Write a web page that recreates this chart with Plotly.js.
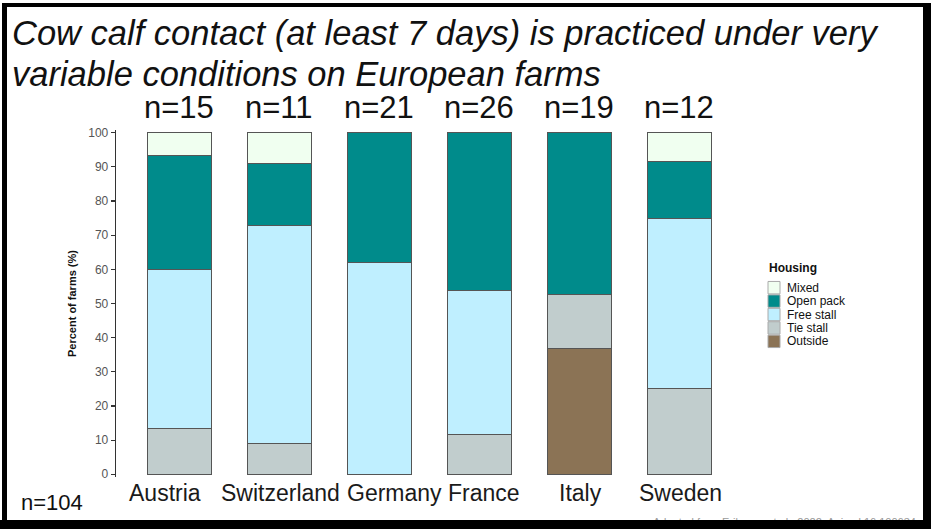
<!DOCTYPE html>
<html>
<head>
<meta charset="utf-8">
<script src="https://cdn.plot.ly/plotly-3.0.1.min.js"></script>
<style>
  html, body { margin: 0; padding: 0; background: #fff; }
  #wrap { position: relative; width: 931px; height: 529px; overflow: hidden; }
  #chart { position: absolute; left: 0; top: 0; width: 931px; height: 529px; }
  .edge { position: absolute; background: #000; pointer-events: none; }
</style>
</head>
<body>
<div id="wrap">
  <div id="chart"></div>
  <!-- slide frame -->
  <div class="edge" style="left:2px; top:3px; width:5px; height:526px;"></div>
  <div class="edge" style="left:2px; top:3px; width:929px; height:4px;"></div>
  <div class="edge" style="left:923px; top:3px; width:8px; height:526px;"></div>
  <div class="edge" style="left:0; top:520px; width:931px; height:9px;"></div>
</div>
<script>
// Farms per country, split by calf housing type
const countries = ['Austria', 'Switzerland', 'Germany', 'France', 'Italy', 'Sweden'];
const farmsTotal = [15, 11, 21, 26, 19, 12];

// farm counts per housing type (same country order)
const outside   = [0, 0, 0, 0, 7, 0];
const tieStall  = [2, 1, 0, 3, 3, 3];
const freeStall = [7, 7, 13, 11, 0, 6];
const openPack  = [5, 2, 8, 12, 9, 2];
const mixed     = [1, 1, 0, 0, 0, 1];

// stacking order, bottom to top
const housingNames  = ['Outside', 'Tie stall', 'Free stall', 'Open pack', 'Mixed'];
const housingCounts = [outside, tieStall, freeStall, openPack, mixed];
const housingColors = ['#8B7355', '#C1CDCD', '#BFEFFF', '#008B8B', '#F0FFF0'];

const titleLines = ['Cow calf contact (at least 7 days) is practiced under very',
                    'variable conditions on European farms'];
const totalLabel = 'n=104';
const sourceNote = 'Adapted from Eriksson et al., 2022, Animal 16:100634';

// plot area in pixels, used to place paper-referenced items
const L = 116, R = 739, T = 130.3, B = 476.7;
const px = x => (x - L) / (R - L);
const py = y => (B - y) / (B - T);

// country names sit in their own text row, nudged sideways to fit
const countryLabelShift = [-14, 1.5, 15, 5, 1, 1.5];

const sans = '"Liberation Sans", Arial, sans-serif';

const traces = housingNames.map((name, k) => ({
  type: 'bar',
  name: name,
  x: countries,
  y: housingCounts[k].map((c, i) => c === 0 ? null : c / farmsTotal[i] * 100),
  width: 0.64,
  marker: { color: housingColors[k], line: { color: '#555555', width: 1 } },
  showlegend: false,
  hoverinfo: 'skip'
}));

const annotations = [];
titleLines.forEach((t, i) => annotations.push({
  xref: 'paper', yref: 'paper', x: px(10), y: py(33 + i * 41),
  xanchor: 'left', yanchor: 'middle', showarrow: false,
  text: t, font: { family: sans, size: 34.5, color: '#111', style: 'italic' }
}));
countries.forEach((c, i) => {
  annotations.push({
    xref: 'x', yref: 'paper', x: c, y: py(108),
    xanchor: 'center', yanchor: 'middle', showarrow: false,
    text: 'n=' + farmsTotal[i], font: { family: sans, size: 31, color: '#111' }
  });
  annotations.push({
    xref: 'x', yref: 'paper', x: c, y: py(493), xshift: countryLabelShift[i],
    xanchor: 'center', yanchor: 'middle', showarrow: false,
    text: c, font: { family: sans, size: 23, color: '#1a1a1a' }
  });
});
annotations.push({
  xref: 'paper', yref: 'paper', x: px(19), y: py(502),
  xanchor: 'left', yanchor: 'middle', showarrow: false,
  text: totalLabel, font: { family: sans, size: 22, color: '#111' }
});
annotations.push({
  xref: 'paper', yref: 'paper', x: px(918), y: py(522),
  xanchor: 'right', yanchor: 'middle', showarrow: false,
  text: sourceNote, font: { family: sans, size: 11, color: '#9a9a9a' }
});

// legend drawn by hand: ggplot-style stacked keys
const shapes = [];
annotations.push({
  xref: 'paper', yref: 'paper', x: px(767), y: py(268),
  xanchor: 'left', yanchor: 'middle', showarrow: false,
  text: '<b>Housing</b>', font: { family: sans, size: 12, color: '#111' }
});
const keyTop = 281, keyH = 13.4;
for (let j = 0; j < housingNames.length; j++) {
  const k = housingNames.length - 1 - j;  // top of stack first
  const y0 = keyTop + j * keyH;
  shapes.push({
    type: 'rect', xref: 'paper', yref: 'paper',
    x0: px(768), x1: px(780), y0: py(y0 + 0.5), y1: py(y0 + keyH - 0.5),
    fillcolor: housingColors[k], line: { color: '#aaaaaa', width: 1 }
  });
  annotations.push({
    xref: 'paper', yref: 'paper', x: px(785), y: py(y0 + keyH / 2),
    xanchor: 'left', yanchor: 'middle', showarrow: false,
    text: housingNames[k], font: { family: sans, size: 12, color: '#111' }
  });
}

const layout = {
  width: 931, height: 529,
  margin: { l: L, r: 931 - R, t: T, b: 529 - B, pad: 0 },
  paper_bgcolor: '#ffffff', plot_bgcolor: '#ffffff',
  barmode: 'stack', bargap: 0.36,
  showlegend: false,
  xaxis: {
    type: 'category', range: [-0.63, 5.6],
    showline: false, showgrid: false, zeroline: false, ticks: '',
    showticklabels: false, fixedrange: true
  },
  yaxis: {
    range: [-0.8, 100.8], tickvals: [0,10,20,30,40,50,60,70,80,90,100],
    showline: true, linecolor: '#333333', linewidth: 1.3,
    ticks: 'outside', ticklen: 4, tickcolor: '#333333', tickwidth: 1.2,
    showgrid: false, zeroline: false,
    tickfont: { family: sans, size: 12, color: '#555555' },
    title: { text: '<b>Percent of farms (%)</b>', font: { family: sans, size: 11, color: '#111' }, standoff: 9 },
    fixedrange: true
  },
  annotations: annotations,
  shapes: shapes
};

Plotly.newPlot('chart', traces, layout, { displayModeBar: false, staticPlot: true });
</script>
</body>
</html>
